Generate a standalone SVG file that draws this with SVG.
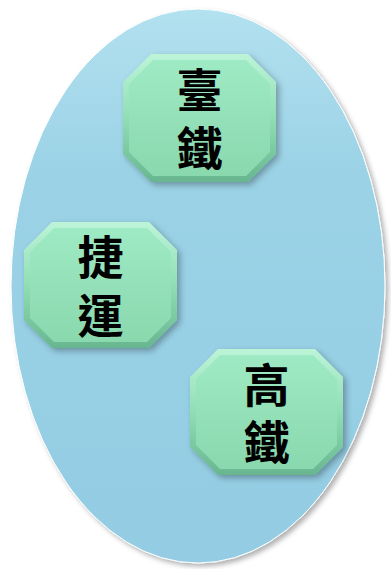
<svg xmlns="http://www.w3.org/2000/svg" width="391" height="569" viewBox="0 0 391 569">
<defs>
<linearGradient id="ellG" x1="0" y1="0" x2="0" y2="1">
<stop offset="0" stop-color="#b2e1ef"/>
<stop offset="0.3" stop-color="#9bd2e6"/>
<stop offset="1" stop-color="#93cce3"/>
</linearGradient>
<linearGradient id="octOuter" x1="0" y1="0" x2="0" y2="1">
<stop offset="0" stop-color="#bdf4d8"/>
<stop offset="0.5" stop-color="#90deb6"/>
<stop offset="1" stop-color="#68b68f"/>
</linearGradient>
<linearGradient id="octInner" x1="0" y1="0" x2="0" y2="1">
<stop offset="0" stop-color="#9eeac4"/>
<stop offset="1" stop-color="#8ad8ae"/>
</linearGradient>
<filter id="sh" x="-20%" y="-20%" width="140%" height="140%">
<feDropShadow dx="3" dy="3" stdDeviation="3" flood-color="#000" flood-opacity="0.3"/>
</filter>
<filter id="sh2" x="-10%" y="-10%" width="120%" height="120%">
<feDropShadow dx="3" dy="3" stdDeviation="2.5" flood-color="#000" flood-opacity="0.3"/>
</filter>
</defs>
<style>
.lbl{font-family:"Liberation Sans","Noto Sans CJK TC","Noto Sans CJK SC",sans-serif;font-size:46px;font-weight:700;fill:#000;text-anchor:middle}
.outer{fill:url(#octOuter)}
.inner{fill:url(#octInner)}
</style>
<g id="container">
<ellipse cx="198" cy="286" rx="187" ry="277" fill="url(#ellG)" stroke="#ffffff" stroke-width="1" filter="url(#sh2)"/>
</g>
<g id="connectors"/>
<g id="n1" transform="translate(123,54)">
<g filter="url(#sh)">
<polygon class="outer" points="28,0 125,0 153,28 153,100 125,128 28,128 0,100 0,28"/>
</g>
<polygon class="inner" points="30,6 123,6 147,30 147,98 123,122 30,122 6,98 6,30"/>
<text class="lbl"><tspan x="76.5" y="53">臺</tspan><tspan x="76.5" y="111">鐵</tspan></text>
</g>
<g id="n2" transform="translate(24,222)">
<g filter="url(#sh)">
<polygon class="outer" points="28,0 125,0 153,28 153,98 125,126 28,126 0,98 0,28"/>
</g>
<polygon class="inner" points="30,6 123,6 147,30 147,96 123,120 30,120 6,96 6,30"/>
<text class="lbl"><tspan x="76.5" y="52">捷</tspan><tspan x="76.5" y="111">運</tspan></text>
</g>
<g id="n3" transform="translate(190,349)">
<g filter="url(#sh)">
<polygon class="outer" points="28,0 125,0 153,28 153,98 125,126 28,126 0,98 0,28"/>
</g>
<polygon class="inner" points="30,6 123,6 147,30 147,96 123,120 30,120 6,96 6,30"/>
<text class="lbl"><tspan x="76.5" y="53">高</tspan><tspan x="76.5" y="110">鐵</tspan></text>
</g>
</svg>
